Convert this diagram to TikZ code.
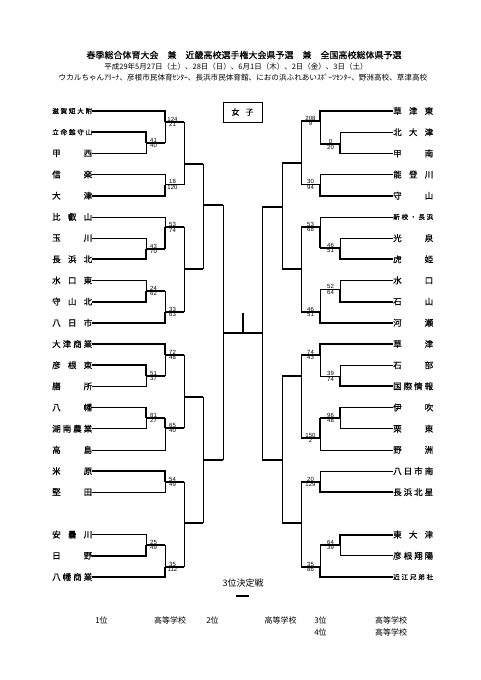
\documentclass[tikz,border=0pt]{standalone}
\usepackage{fontspec}
\setmainfont{Noto Sans CJK JP}
\newfontfamily\tmfont[FakeBold=0.5]{Noto Sans CJK JP}
\newfontfamily\scfont{Liberation Sans}
\tikzset{
  ln/.style={line width=0.8pt},
  win/.style={line width=1.8pt},
  tm/.style={inner sep=0pt, anchor=west, font=\tmfont\fontsize{8.5}{9}\selectfont},
  tms/.style={tm, font=\tmfont\fontsize{6.6}{7}\selectfont},
  sc/.style={inner sep=0.4pt, font=\scfont\fontsize{6}{6.5}\selectfont},
  hd/.style={font=\tmfont\fontsize{#1}{10}\selectfont},
  tx/.style={font=\fontsize{#1}{10}\selectfont},
}
\newcommand{\nm}[1]{\makebox[40pt]{#1}}
% output line of a match, running to the vertical of the next one
\newcommand{\outl}[2]{\draw[win] (#1) -- (#1 -| #2);}
\newcommand{\vwin}[2]{\draw[win] (#1 -| #2) -- (#2);}
\newcommand{\vlos}[2]{\draw[ln] (#1 -| #2) -- (#2);}
\newcommand{\lsc}[3]{\node[sc,anchor=south,xshift=7.5pt] at (#1) {#2};
  \node[sc,anchor=north,xshift=7.5pt] at (#1) {#3};}
\newcommand{\rsc}[3]{\node[sc,anchor=south,xshift=-9.5pt] at (#1) {#2};
  \node[sc,anchor=north,xshift=-9.5pt] at (#1) {#3};}
\begin{document}
\begin{tikzpicture}[x=1pt,y=-1pt]
\useasboundingbox (0,0) rectangle (481,680);
\fill[white] (0,0) rectangle (481,680);

%%%%% HEADER %%%%%
\node[hd=9] (title) at (244,55) {春季総合体育大会　兼　近畿高校選手権大会県予選　兼　全国高校総体県予選};
\node[tx=7.5] (date) at (236,66.7) {平成29年5月27日（土）、28日（日）、6月1日（木）、2日（金）、3日（土）};
\node[tx=7.6] (venue) at (243,77.5) {ウカルちゃんｱﾘｰﾅ、彦根市民体育ｾﾝﾀｰ、長浜市民体育館、におの浜ふれあいｽﾎﾟｰﾂｾﾝﾀｰ、野洲高校、草津高校};
\node[draw, line width=0.8pt, minimum width=39pt, minimum height=20pt, inner sep=0pt,
  hd=8] (cat) at (242.5,112) {女\hspace{6pt}子};

%%%%% LEFT TEAMS %%%%%
\node[tms] (l0) at (52,111.0) {\nm{滋\hfill 賀\hfill 短\hfill 大\hfill 附}};
\node[tms] (l1) at (52,132.2) {\nm{立\hfill 命\hfill 館\hfill 守\hfill 山}};
\node[tm] (l2) at (52,153.4) {\nm{甲\hfill 西}};
\node[tm] (l3) at (52,174.5) {\nm{信\hfill 楽}};
\node[tm] (l4) at (52,195.7) {\nm{大\hfill 津}};
\node[tm] (l5) at (52,216.9) {\nm{比\hfill 叡\hfill 山}};
\node[tm] (l6) at (52,238.1) {\nm{玉\hfill 川}};
\node[tm] (l7) at (52,259.3) {\nm{長\hfill 浜\hfill 北}};
\node[tm] (l8) at (52,280.4) {\nm{水\hfill 口\hfill 東}};
\node[tm] (l9) at (52,301.6) {\nm{守\hfill 山\hfill 北}};
\node[tm] (l10) at (52,322.8) {\nm{八\hfill 日\hfill 市}};
\node[tm] (l11) at (52,344.0) {\nm{大\hfill 津\hfill 商\hfill 業}};
\node[tm] (l12) at (52,365.2) {\nm{彦\hfill 根\hfill 東}};
\node[tm] (l13) at (52,386.3) {\nm{膳\hfill 所}};
\node[tm] (l14) at (52,407.5) {\nm{八\hfill 幡}};
\node[tm] (l15) at (52,428.7) {\nm{湖\hfill 南\hfill 農\hfill 業}};
\node[tm] (l16) at (52,449.9) {\nm{高\hfill 島}};
\node[tm] (l17) at (52,471.1) {\nm{米\hfill 原}};
\node[tm] (l18) at (52,492.2) {\nm{堅\hfill 田}};
\node[tm] (l20) at (52,534.6) {\nm{安\hfill 曇\hfill 川}};
\node[tm] (l21) at (52,555.8) {\nm{日\hfill 野}};
\node[tm] (l22) at (52,577.0) {\nm{八\hfill 幡\hfill 商\hfill 業}};

%%%%% RIGHT TEAMS %%%%%
\node[tm] (r0) at (393,111.0) {\nm{草\hfill 津\hfill 東}};
\node[tm] (r1) at (393,132.2) {\nm{北\hfill 大\hfill 津}};
\node[tm] (r2) at (393,153.4) {\nm{甲\hfill 南}};
\node[tm] (r3) at (393,174.5) {\nm{能\hfill 登\hfill 川}};
\node[tm] (r4) at (393,195.7) {\nm{守\hfill 山}};
\node[tms] (r5) at (393,216.9) {\nm{新\hfill 校\hfill ・\hfill 長\hfill 浜}};
\node[tm] (r6) at (393,238.1) {\nm{光\hfill 泉}};
\node[tm] (r7) at (393,259.3) {\nm{虎\hfill 姫}};
\node[tm] (r8) at (393,280.4) {\nm{水\hfill 口}};
\node[tm] (r9) at (393,301.6) {\nm{石\hfill 山}};
\node[tm] (r10) at (393,322.8) {\nm{河\hfill 瀬}};
\node[tm] (r11) at (393,344.0) {\nm{草\hfill 津}};
\node[tm] (r12) at (393,365.2) {\nm{石\hfill 部}};
\node[tm] (r13) at (393,386.3) {\nm{国\hfill 際\hfill 情\hfill 報}};
\node[tm] (r14) at (393,407.5) {\nm{伊\hfill 吹}};
\node[tm] (r15) at (393,428.7) {\nm{栗\hfill 東}};
\node[tm] (r16) at (393,449.9) {\nm{野\hfill 洲}};
\node[tm] (r17) at (393,471.1) {\nm{八\hfill 日\hfill 市\hfill 南}};
\node[tm] (r18) at (393,492.2) {\nm{長\hfill 浜\hfill 北\hfill 星}};
\node[tm] (r20) at (393,534.6) {\nm{東\hfill 大\hfill 津}};
\node[tm] (r21) at (393,555.8) {\nm{彦\hfill 根\hfill 翔\hfill 陽}};
\node[tms] (r22) at (393,577.0) {\nm{近\hfill 江\hfill 兄\hfill 弟\hfill 社}};

%%%%% MATCH POINTS %%%%%
\coordinate (mA1) at (146,142.8);
\coordinate (mA2) at (165,122);
\coordinate (mA3) at (165,184.5);
\coordinate (mA4) at (184,164);
\coordinate (mB1) at (146,248.7);
\coordinate (mB2) at (165,227.3);
\coordinate (mB3) at (146,291);
\coordinate (mB4) at (165,312);
\coordinate (mB5) at (184,269);
\coordinate (mAB) at (203,205);
\coordinate (mC1) at (146,376);
\coordinate (mC2) at (165,355);
\coordinate (mC3) at (146,418);
\coordinate (mC4) at (165,428);
\coordinate (mC5) at (184,397);
\coordinate (mD1) at (165,481.7);
\coordinate (mD2) at (146,545.2);
\coordinate (mD3) at (165,567);
\coordinate (mD4) at (184,523);
\coordinate (mCD) at (203,460);
\coordinate (mL) at (223,333);

\coordinate (mE1) at (340,144.3);
\coordinate (mE2) at (320,121);
\coordinate (mE3) at (320,184.5);
\coordinate (mE4) at (301,163);
\coordinate (mF1) at (340,248);
\coordinate (mF2) at (320,226.7);
\coordinate (mF3) at (340,289.5);
\coordinate (mF4) at (320,312);
\coordinate (mF5) at (301,269);
\coordinate (mEF) at (282,207);
\coordinate (mG1) at (340,376.5);
\coordinate (mG2) at (320,355);
\coordinate (mG3) at (340,418);
\coordinate (mG4) at (320,438);
\coordinate (mG5) at (301,376);
\coordinate (mH1) at (320,482);
\coordinate (mH2) at (340,545.2);
\coordinate (mH3) at (320,567);
\coordinate (mH4) at (301,523);
\coordinate (mGH) at (282,460);
\coordinate (mR) at (262,333);
\coordinate (fin) at (243,313);

%%%%% LEFT BRACKET %%%%%
\draw[win] (l1.east) -| (mA1);  \draw[ln] (l2.east) -| (mA1);  \lsc{mA1}{41}{40}
\draw[win] (l0.east) -| (mA2);  \outl{mA1}{mA2} \vlos{mA1}{mA2}  \lsc{mA2}{124}{21}
\draw[ln] (l3.east) -| (mA3);   \draw[win] (l4.east) -| (mA3);  \lsc{mA3}{18}{120}
\outl{mA2}{mA4} \outl{mA3}{mA4} \draw[ln] (mA2 -| mA4) -- (mA3 -| mA4);

\draw[ln] (l6.east) -| (mB1);   \draw[win] (l7.east) -| (mB1);  \lsc{mB1}{43}{70}
\draw[ln] (l5.east) -| (mB2);   \outl{mB1}{mB2} \vwin{mB1}{mB2}  \lsc{mB2}{53}{74}
\draw[ln] (l8.east) -| (mB3);   \draw[win] (l9.east) -| (mB3);  \lsc{mB3}{24}{62}
\outl{mB3}{mB4} \vlos{mB3}{mB4} \draw[win] (l10.east) -| (mB4);  \lsc{mB4}{33}{63}
\outl{mB2}{mB5} \outl{mB4}{mB5} \draw[ln] (mB2 -| mB5) -- (mB4 -| mB5);
\outl{mA4}{mAB} \outl{mB5}{mAB} \draw[ln] (mA4 -| mAB) -- (mB5 -| mAB);

\draw[win] (l12.east) -| (mC1); \draw[ln] (l13.east) -| (mC1);  \lsc{mC1}{51}{37}
\draw[win] (l11.east) -| (mC2); \outl{mC1}{mC2} \vlos{mC1}{mC2}  \lsc{mC2}{72}{48}
\draw[win] (l14.east) -| (mC3); \draw[ln] (l15.east) -| (mC3);  \lsc{mC3}{81}{27}
\outl{mC3}{mC4} \vwin{mC3}{mC4} \draw[ln] (l16.east) -| (mC4);  \lsc{mC4}{65}{40}
\outl{mC2}{mC5} \outl{mC4}{mC5} \draw[ln] (mC2 -| mC5) -- (mC4 -| mC5);

\draw[win] (l17.east) -| (mD1); \draw[ln] (l18.east) -| (mD1);  \lsc{mD1}{54}{49}
\draw[ln] (l20.east) -| (mD2);  \draw[win] (l21.east) -| (mD2); \lsc{mD2}{25}{49}
\outl{mD2}{mD3} \vlos{mD2}{mD3} \draw[win] (l22.east) -| (mD3);  \lsc{mD3}{35}{112}
\outl{mD1}{mD4} \outl{mD3}{mD4} \draw[ln] (mD1 -| mD4) -- (mD3 -| mD4);
\outl{mC5}{mCD} \outl{mD4}{mCD} \draw[ln] (mC5 -| mCD) -- (mD4 -| mCD);
\outl{mAB}{mL} \outl{mCD}{mL} \draw[ln] (mAB -| mL) -- (mCD -| mL);

%%%%% RIGHT BRACKET %%%%%
\draw[ln] (r1.west) -| (mE1);   \draw[win] (r2.west) -| (mE1);  \rsc{mE1}{0}{20}
\draw[win] (r0.west) -| (mE2);  \outl{mE1}{mE2} \vlos{mE1}{mE2}  \rsc{mE2}{208}{9}
\draw[ln] (r3.west) -| (mE3);   \draw[win] (r4.west) -| (mE3);  \rsc{mE3}{30}{94}
\outl{mE2}{mE4} \outl{mE3}{mE4} \draw[ln] (mE2 -| mE4) -- (mE3 -| mE4);

\draw[ln] (r6.west) -| (mF1);   \draw[win] (r7.west) -| (mF1);  \rsc{mF1}{46}{51}
\draw[ln] (r5.west) -| (mF2);   \outl{mF1}{mF2} \vwin{mF1}{mF2}  \rsc{mF2}{53}{68}
\draw[ln] (r8.west) -| (mF3);   \draw[win] (r9.west) -| (mF3);  \rsc{mF3}{52}{64}
\outl{mF3}{mF4} \vlos{mF3}{mF4} \draw[win] (r10.west) -| (mF4);  \rsc{mF4}{46}{51}
\outl{mF2}{mF5} \outl{mF4}{mF5} \draw[ln] (mF2 -| mF5) -- (mF4 -| mF5);
\outl{mE4}{mEF} \outl{mF5}{mEF} \draw[ln] (mE4 -| mEF) -- (mF5 -| mEF);

\draw[ln] (r12.west) -| (mG1);  \draw[win] (r13.west) -| (mG1); \rsc{mG1}{39}{74}
\draw[win] (r11.west) -| (mG2); \outl{mG1}{mG2} \vlos{mG1}{mG2}  \rsc{mG2}{74}{43}
\draw[win] (r14.west) -| (mG3); \draw[ln] (r15.west) -| (mG3);  \rsc{mG3}{96}{48}
\outl{mG3}{mG4} \vwin{mG3}{mG4} \draw[ln] (r16.west) -| (mG4);  \rsc{mG4}{150}{2}
\outl{mG2}{mG5} \outl{mG4}{mG5} \draw[ln] (mG2 -| mG5) -- (mG4 -| mG5);

\draw[ln] (r17.west) -| (mH1);  \draw[win] (r18.west) -| (mH1); \rsc{mH1}{20}{129}
\draw[win] (r20.west) -| (mH2); \draw[ln] (r21.west) -| (mH2);  \rsc{mH2}{64}{39}
\outl{mH2}{mH3} \vlos{mH2}{mH3} \draw[win] (r22.west) -| (mH3);  \rsc{mH3}{35}{86}
\outl{mH1}{mH4} \outl{mH3}{mH4} \draw[ln] (mH1 -| mH4) -- (mH3 -| mH4);
\outl{mG5}{mGH} \outl{mH4}{mGH} \draw[ln] (mG5 -| mGH) -- (mH4 -| mGH);
\outl{mEF}{mR} \outl{mGH}{mR} \draw[ln] (mEF -| mR) -- (mGH -| mR);

%%%%% FINAL %%%%%
\draw[win] (mL) -- (mR);
\draw[win] (fin) -- (fin |- mL);

%%%%% 3RD PLACE & RESULTS %%%%%
\node[tx=9] (third) at (243,582.7) {3位決定戦};
\coordinate (t1) at (236,596);
\coordinate (t2) at (249,596);
\draw[line width=1.2pt] (t1) -- (t2);

\node[tx=8] (p1) at (101.5,620) {1位};
\node[tx=8] (s1) at (170,620) {高等学校};
\node[tx=8] (p2) at (212.5,620) {2位};
\node[tx=8] (s2) at (280.5,620) {高等学校};
\node[tx=8] (p3) at (320.5,620) {3位};
\node[tx=8] (s3) at (391,620) {高等学校};
\node[tx=8] (p4) at (320.5,632) {4位};
\node[tx=8] (s4) at (391,632) {高等学校};
\end{tikzpicture}
\end{document}
